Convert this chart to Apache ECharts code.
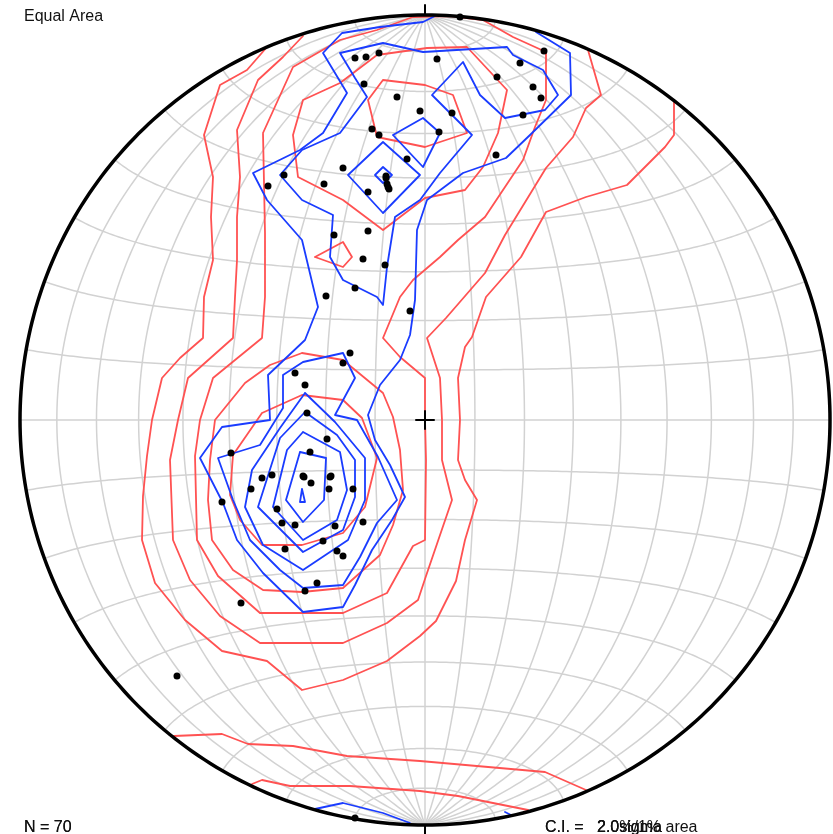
<!DOCTYPE html>
<html>
<head>
<meta charset="utf-8">
<script src="https://cdn.jsdelivr.net/npm/echarts@6/dist/echarts.min.js"></script>
<style>
  html, body { margin: 0; padding: 0; background: #ffffff; }
  #chart { width: 833px; height: 834px; }
</style>
</head>
<body>
<div id="chart"></div>
<script>
// Equal-area (Schmidt) net, lower hemisphere. Coordinates are millimetres on a
// printed net whose primitive circle has a radius of 40.5 mm (east = +x, north = +y).
const NET_RADIUS = 40.5;

// Poles to planes (N = 70)
const poles = [
  [3.5, 40.3], [-7.0, 36.2], [-5.9, 36.3], [-4.6, 36.7], [1.2, 36.1], [11.9, 36.9],
  [9.5, 35.7], [7.2, 34.3], [10.8, 33.3], [11.6, 32.2], [9.8, 30.5], [-6.1, 33.6],
  [-2.8, 32.3], [-0.5, 30.9], [2.7, 30.7], [-5.3, 29.1], [-4.6, 28.5], [1.4, 28.8],
  [7.1, 26.5], [-1.8, 26.1], [-8.2, 25.2], [-3.9, 24.4], [-3.8, 23.6], [-3.6, 23.1],
  [-5.7, 22.8], [-10.1, 23.6], [-14.1, 24.5], [-15.7, 23.4], [-5.7, 18.9], [-9.1, 18.5],
  [-6.2, 16.1], [-4.0, 15.5], [-7.0, 13.2], [-9.9, 12.4], [-1.5, 10.9], [-7.5, 6.7],
  [-8.2, 5.7], [-13.0, 4.7], [-12.0, 3.5], [-11.8, 0.7], [-9.8, -1.9], [-11.5, -3.2],
  [-19.4, -3.3], [-16.3, -5.8], [-15.3, -5.5], [-12.2, -5.6], [-11.4, -6.3], [-9.4, -5.6],
  [-9.6, -6.9], [-7.2, -6.9], [-17.4, -6.9], [-20.3, -8.2], [-14.8, -8.9], [-14.3, -10.3],
  [-13.0, -10.5], [-9.0, -10.6], [-6.2, -10.2], [-10.2, -12.1], [-14.0, -12.9], [-8.8, -13.1],
  [-8.2, -13.6], [-10.8, -16.3], [-12.0, -17.1], [-18.4, -18.3], [-24.8, -25.6], [-7.0, -39.8],
  [-3.7, 23.3], [-12.1, -5.7], [-3.9, 24.2], [-9.5, -5.7]
];

// Density contours, 1% counting area (red)
const redLevel1 = [
  [-15.8, 37.3], [-17.8, 35.0], [-20.5, 33.5], [-22.1, 28.5], [-21.2, 24.3], [-21.4, 20.3],
  [-21.2, 16.0], [-22.1, 12.3], [-22.2, 8.2], [-24.5, 6.2], [-26.3, 4.2], [-27.3, 0],
  [-27.8, -3.6], [-28.2, -7.6], [-28.3, -12.0], [-27.0, -16.3], [-24.0, -20.0], [-20.3, -23.1],
  [-15.8, -24.1], [-12.3, -27.0], [-8.2, -26.0], [-3.8, -24.1], [-0.5, -21.6], [1.1, -20.1],
  [3.1, -16.1], [4.0, -12.0], [5.2, -8.0], [4.0, -6.0], [3.3, -4.0], [3.5, 0], [3.3, 4.2],
  [4.0, 7.3], [4.7, 8.3], [6.1, 12.3], [9.6, 16.3], [12.1, 20.8], [16.1, 22.3], [20.2, 23.5],
  [24.0, 27.3], [24.9, 28.5], [24.9, 31.8]
];
const redLevel1South = [
  [-25.1, -31.6], [-20.3, -31.4], [-17.7, -32.4], [-13.2, -32.6], [-7.8, -33.6],
  [-0.5, -34.1], [12.0, -35.2], [16.1, -37.0]
];
const redLevel2 = [
  [-12.2, 38.4], [-14.2, 36.3], [-16.7, 34.0], [-18.8, 29.0], [-18.5, 24.3], [-18.8, 20.3],
  [-18.8, 16.0], [-19.0, 12.3], [-19.2, 8.2], [-23.7, 4.2], [-24.7, 0], [-25.5, -4.0],
  [-25.2, -12.0], [-23.5, -16.0], [-20.5, -19.6], [-16.5, -22.3], [-12.3, -22.3], [-8.2, -22.3],
  [-3.8, -20.3], [-0.7, -18.0], [0.1, -15.6], [2.7, -8.0], [1.7, -4.0], [1.7, 0], [1.5, 4.2],
  [0.2, 8.2], [2.1, 10.2], [6.0, 14.7], [8.0, 18.5], [12.1, 25.2], [14.8, 28.3], [16.1, 31.2],
  [17.6, 32.5], [16.3, 37.0]
];
const redLevel2South = [
  [-17.3, -36.4], [-16.3, -36.0], [-13.5, -36.6], [-7.5, -36.6], [-0.5, -37.1], [3.3, -37.6],
  [10.3, -39.0]
];
const redLevel3 = [
  [-16.2, 28.7], [-13.2, 35.3], [-8.5, 38.0], [-4.8, 39.0], [-1.2, 40.3], [2.5, 40.4],
  [5.8, 40.0], [8.8, 38.3], [12.1, 36.8], [12.1, 32.0], [11.0, 29.3], [9.8, 26.0], [8.0, 23.3],
  [6.0, 20.3], [3.3, 18.0], [1.5, 16.3], [-1.2, 14.0], [-2.5, 12.3], [-4.2, 8.2], [-2.5, 6.3],
  [0, 4.2], [0, 0], [0.1, -4.0], [0, -12.0], [-1.2, -12.6], [-3.8, -17.3], [-8.2, -19.3],
  [-12.3, -19.3], [-16.5, -19.3], [-20.7, -15.6], [-22.8, -12.0], [-23.0, -3.6], [-22.5, 0],
  [-21.2, 4.2], [-16.3, 8.2], [-16.0, 12.3], [-16.0, 18.7], [-16.2, 28.7]
];
const redLevel4North = [
  [-4.8, 36.5], [0.2, 37.2], [4.2, 37.3], [8.2, 33.0], [7.3, 28.7], [5.8, 25.3], [4.0, 23.0],
  [0, 22.2], [-4.2, 19.0], [-8.2, 22.0], [-12.7, 24.3], [-13.2, 28.5], [-12.2, 32.0],
  [-8.5, 33.7], [-4.8, 36.5]
];
const redLevel4Spot = [[-11.0, 16.3], [-8.2, 17.8], [-7.3, 16.3], [-8.2, 15.3], [-11.0, 16.3]];
const redLevel4South = [
  [-12.3, 6.7], [-8.2, 6.0], [-4.2, 2.7], [-3.2, 0.3], [-2.5, -3.0], [-2.2, -7.0], [-3.2, -10.5],
  [-4.5, -13.5], [-8.2, -16.8], [-12.3, -17.2], [-16.2, -17.0], [-19.2, -15.0], [-21.3, -12.0],
  [-21.7, -8.0], [-21.5, -4.0], [-21.0, 0], [-18.0, 3.7], [-15.5, 5.5], [-12.3, 6.7]
];
const redLevel5North = [
  [-4.2, 34.0], [0, 33.5], [2.8, 32.5], [4.2, 28.7], [0, 27.3], [-4.8, 28.3], [-5.7, 32.0],
  [-4.2, 34.0]
];
const redLevel5South = [
  [-16.3, 0.7], [-12.3, 2.5], [-8.2, 2.0], [-6.3, 0.2], [-4.8, -3.8], [-6.0, -8.7], [-8.2, -11.3],
  [-12.3, -12.5], [-16.3, -12.5], [-18.5, -10.0], [-19.5, -7.5], [-19.2, -3.5], [-16.3, 0.7]
];

// Density contours, 2.0 sigma interval (blue)
const blueLevel1 = [
  [1.0, 40.4], [-0.2, 39.8], [-4.5, 39.3], [-8.3, 38.7], [-10.2, 36.7], [-7.8, 32.7],
  [-10.2, 28.7], [-12.5, 27.0], [-17.2, 24.7], [-15.8, 22.0], [-12.3, 18.0], [-10.7, 11.3],
  [-12.0, 8.0], [-15.7, 4.5], [-15.5, 0], [-20.3, -0.7], [-22.5, -3.8], [-20.2, -8.3],
  [-18.8, -12.0], [-16.2, -15.3], [-12.2, -19.2], [-8.2, -18.7], [-7.0, -16.5], [-5.3, -13.0],
  [-3.3, -10.0], [-2.0, -7.7], [-3.5, -4.5], [-5.0, -2.0], [-5.7, 0.5], [-4.5, 3.5],
  [-2.5, 6.0], [-1.5, 8.5], [-1.0, 12.0], [-0.8, 19.0], [0.2, 22.0], [3.8, 24.7], [8.1, 26.2],
  [10.5, 28.5], [14.6, 32.5], [14.5, 36.7], [11.1, 38.8]
];
const blueLevel1South = [[-11.0, -38.9], [-8.2, -38.3], [-4.2, -39.3], [-1.5, -40.3]];
const blueLevel1Rim = [[8.0, -39.2], [8.6, -39.5]];
const blueLevel2North = [
  [-8.5, 36.7], [-4.2, 37.7], [-0.2, 36.8], [8.2, 37.3], [8.8, 36.5], [11.8, 35.0], [13.3, 32.5],
  [12.0, 31.0], [8.0, 30.2], [5.5, 32.5], [3.8, 35.8], [0.7, 32.5], [4.7, 28.5], [1.5, 24.7],
  [-0.5, 22.0], [-3.0, 20.3], [-3.8, 15.3], [-4.2, 11.5], [-4.8, 12.3], [-8.2, 14.0],
  [-9.5, 16.3], [-9.2, 20.5], [-12.3, 22.0], [-14.5, 24.5], [-12.3, 27.0], [-8.5, 28.7],
  [-5.8, 32.3], [-7.0, 34.2], [-8.5, 36.7]
];
const blueLevel2South = [
  [-8.2, 6.7], [-12.2, 5.8], [-14.2, 4.5], [-14.2, 1.2], [-16.5, -2.5], [-20.7, -3.8],
  [-19.2, -8.0], [-17.5, -12.0], [-14.5, -15.0], [-12.2, -16.8], [-8.2, -16.5], [-6.5, -13.7],
  [-4.8, -10.3], [-2.8, -8.0], [-4.7, -3.7], [-6.8, 0], [-9.0, 0.5], [-7.0, 4.2], [-8.2, 6.7]
];
const blueLevel3North = [[-3.2, 28.5], [-0.2, 30.2], [1.5, 28.7], [-0.2, 25.3], [-3.2, 28.5]];
const blueLevel3Centre = [[-7.7, 24.5], [-4.2, 27.8], [-0.5, 24.5], [-4.2, 20.7], [-7.7, 24.5]];
const blueLevel3South = [
  [-12.0, 2.7], [-9.0, -0.2], [-6.0, -3.8], [-6.0, -8.0], [-7.7, -12.0], [-12.2, -15.0],
  [-16.2, -12.5], [-18.0, -8.7], [-17.3, -5.0], [-14.5, -0.8], [-12.0, 2.7]
];
const blueLevel4Centre = [[-5.0, 24.5], [-4.2, 25.3], [-3.3, 24.5], [-4.2, 23.7], [-5.0, 24.5]];
const blueLevel4South = [
  [-12.0, 0.8], [-8.8, -1.5], [-7.0, -4.0], [-7.0, -7.7], [-8.2, -11.0], [-12.2, -13.2],
  [-16.7, -8.7], [-14.5, -1.8], [-12.0, 0.8]
];
const blueLevel5South = [
  [-12.2, -1.2], [-8.5, -3.2], [-7.8, -7.0], [-8.8, -10.0], [-12.2, -12.0], [-15.2, -8.7],
  [-13.8, -3.0], [-12.2, -1.2]
];
const blueLevel6South = [
  [-12.5, -3.2], [-9.9, -3.8], [-10.1, -8.0], [-12.2, -10.2], [-13.9, -8.0], [-12.5, -3.2]
];
const blueLevel7South = [[-12.3, -6.9], [-12.0, -8.2], [-12.5, -8.2], [-12.3, -6.9]];

const RED = '#ff5252';
const BLUE = '#1a3cff';
const GRID = '#d2d2d2';

// Lambert azimuthal equal-area projection, equatorial aspect, scaled to the net radius
function project(lonDeg, latDeg) {
  const l = lonDeg * Math.PI / 180, p = latDeg * Math.PI / 180;
  const k = Math.sqrt(1 / (1 + Math.cos(p) * Math.cos(l)));
  return [NET_RADIUS * k * Math.cos(p) * Math.sin(l), NET_RADIUS * k * Math.sin(p)];
}

const series = [];
function addPath(points, color, width, z) {
  series.push({
    type: 'line', data: points, showSymbol: false, symbol: 'none', smooth: false,
    lineStyle: { color: color, width: width, cap: 'round', join: 'round' },
    silent: true, animation: false, clip: false, z: z
  });
}

// graticule: great circles through N/S and small circles about the N-S axis, every 10 degrees
for (let lon = -80; lon <= 80; lon += 10) {
  const pts = [];
  for (let lat = -90; lat <= 90; lat += 1) pts.push(project(lon, lat));
  addPath(pts, GRID, 1.5, 1);
}
for (let lat = -80; lat <= 80; lat += 10) {
  const pts = [];
  for (let lon = -90; lon <= 90; lon += 1) pts.push(project(lon, lat));
  addPath(pts, GRID, 1.5, 1);
}

[redLevel1, redLevel1South, redLevel2, redLevel2South, redLevel3, redLevel4North,
 redLevel4Spot, redLevel4South, redLevel5North, redLevel5South].forEach(c => addPath(c, RED, 1.8, 2));
[blueLevel1, blueLevel1South, blueLevel1Rim, blueLevel2North, blueLevel2South, blueLevel3North,
 blueLevel3Centre, blueLevel3South, blueLevel4Centre, blueLevel4South, blueLevel5South,
 blueLevel6South, blueLevel7South].forEach(c => addPath(c, BLUE, 1.8, 3));

series.push({
  type: 'scatter', data: poles, symbol: 'circle', symbolSize: 7,
  itemStyle: { color: '#000000', opacity: 1 }, silent: true, animation: false, z: 4
});

// primitive circle, cardinal ticks and centre cross
const rim = [];
for (let a = 0; a <= 360; a += 1) {
  const t = a * Math.PI / 180;
  rim.push([NET_RADIUS * Math.cos(t), NET_RADIUS * Math.sin(t)]);
}
addPath(rim, '#000000', 3.5, 5);
const TICK = 1.0, CROSS = 0.9;
addPath([[0, NET_RADIUS], [0, NET_RADIUS + TICK]], '#000000', 2, 5);
addPath([[0, -NET_RADIUS], [0, -NET_RADIUS - TICK]], '#000000', 2, 5);
addPath([[-NET_RADIUS, 0], [-NET_RADIUS - TICK, 0]], '#000000', 2, 5);
addPath([[NET_RADIUS, 0], [NET_RADIUS + TICK, 0]], '#000000', 2, 5);
addPath([[-CROSS, 0], [CROSS, 0]], '#000000', 2, 5);
addPath([[0, -CROSS], [0, CROSS]], '#000000', 2, 5);

const FONT = '16px "Liberation Sans", Arial, Helvetica, sans-serif';
function label(text, x, y) {
  return { type: 'text', x: x, y: y, silent: true,
    style: { text: text, font: FONT, fill: '#111111', textAlign: 'left', textVerticalAlign: 'middle' } };
}

const chart = echarts.init(document.getElementById('chart'), null, { renderer: 'canvas' });
chart.setOption({
  animation: false,
  backgroundColor: '#ffffff',
  grid: { left: 20, top: 15, width: 810, height: 810, containLabel: false },
  xAxis: { type: 'value', min: -NET_RADIUS, max: NET_RADIUS, show: false },
  yAxis: { type: 'value', min: -NET_RADIUS, max: NET_RADIUS, show: false },
  series: series,
  graphic: [
    label('Equal Area', 24, 17),
    label('N = 70', 24, 828),
    label('N = 70', 24, 828),
    label('C.I. =', 545, 828),
    label('C.I. =', 545, 828),
    label('2.0sigma', 597, 828),
    label('2.0sigma', 597, 828),
    label('2.0%/1% area', 597, 828)
  ]
});
</script>
</body>
</html>
